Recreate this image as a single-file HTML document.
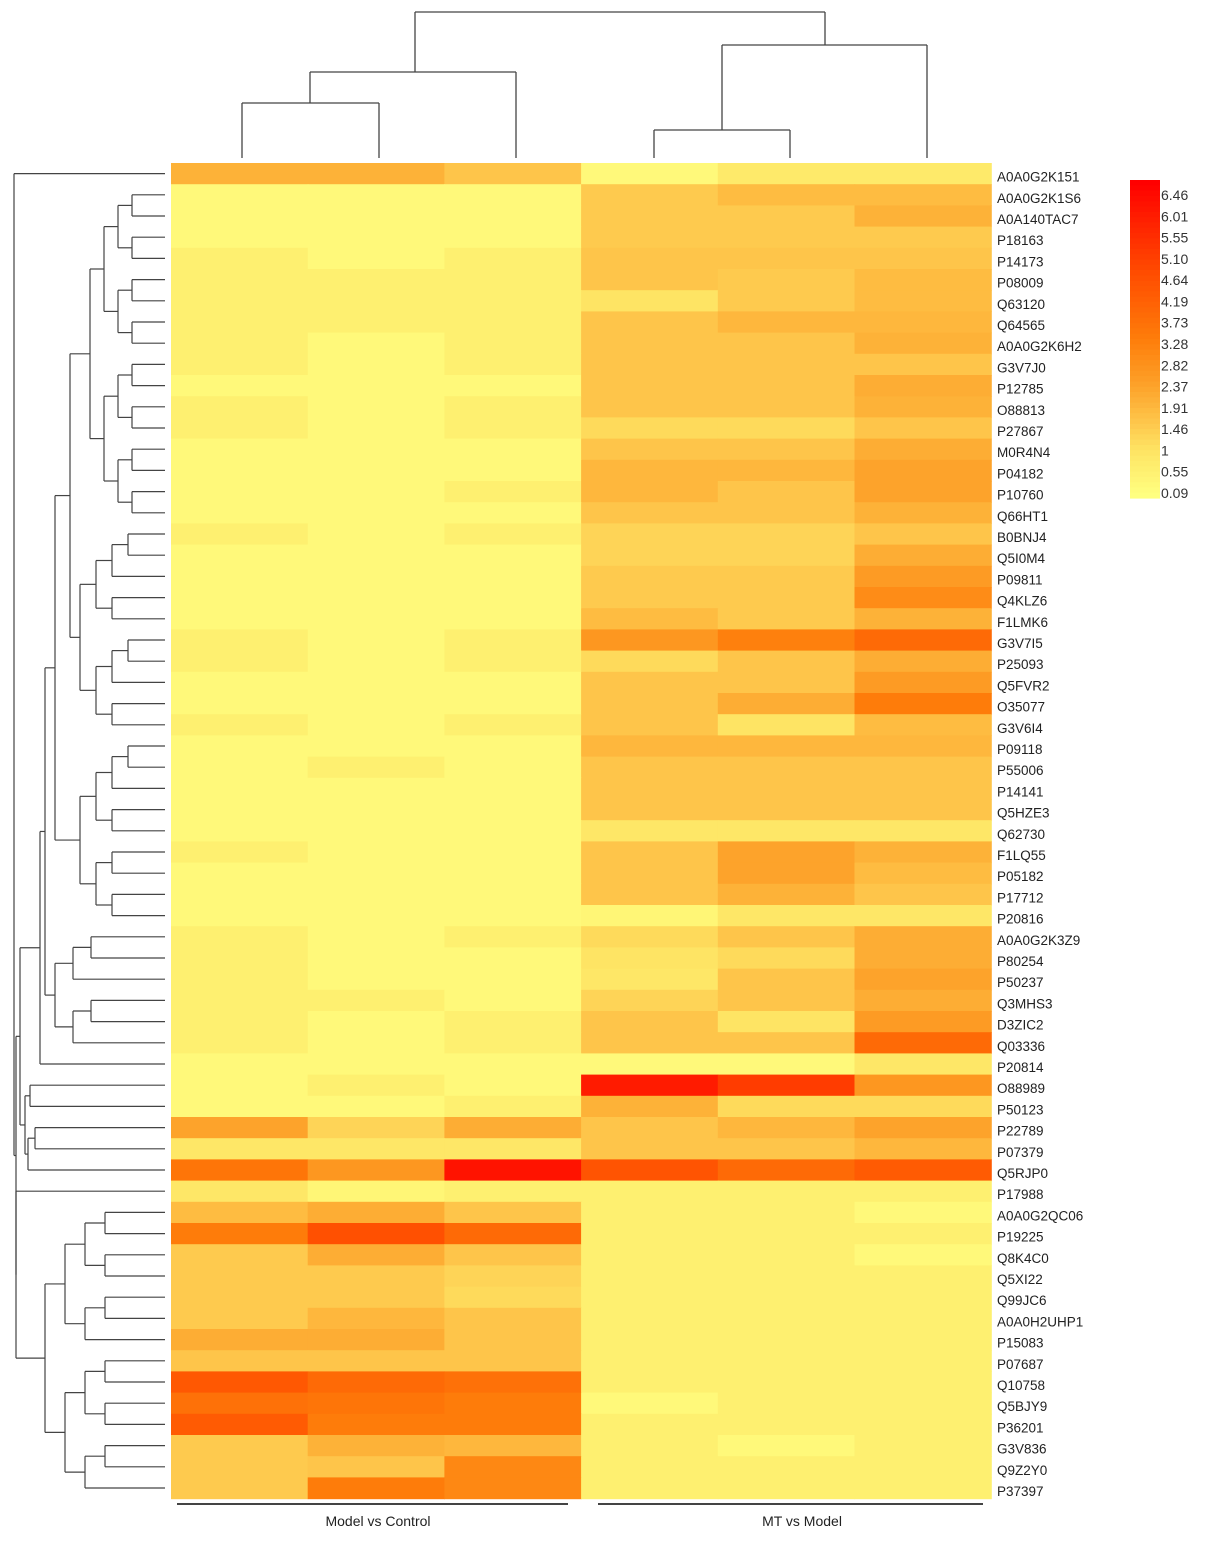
<!DOCTYPE html>
<html><head><meta charset="utf-8"><style>
body{margin:0;background:#fff;font-family:"Liberation Sans",sans-serif}
svg text{font-family:"Liberation Sans",sans-serif}
</style></head><body>
<svg id="c" width="1205" height="1541" viewBox="0 0 1205 1541" xmlns="http://www.w3.org/2000/svg"></svg>
<script>
const rowLabels=["A0A0G2K151","A0A0G2K1S6","A0A140TAC7","P18163","P14173","P08009","Q63120","Q64565","A0A0G2K6H2","G3V7J0","P12785","O88813","P27867","M0R4N4","P04182","P10760","Q66HT1","B0BNJ4","Q5I0M4","P09811","Q4KLZ6","F1LMK6","G3V7I5","P25093","Q5FVR2","O35077","G3V6I4","P09118","P55006","P14141","Q5HZE3","Q62730","F1LQ55","P05182","P17712","P20816","A0A0G2K3Z9","P80254","P50237","Q3MHS3","D3ZIC2","Q03336","P20814","O88989","P50123","P22789","P07379","Q5RJP0","P17988","A0A0G2QC06","P19225","Q8K4C0","Q5XI22","Q99JC6","A0A0H2UHP1","P15083","P07687","Q10758","Q5BJY9","P36201","G3V836","Q9Z2Y0","P37397"];
const groupLabels=["Model vs Control","MT vs Model"];
const legendTicks=["6.46","6.01","5.55","5.10","4.64","4.19","3.73","3.28","2.82","2.37","1.91","1.46","1","0.55","0.09"];
const values=[
[2.0,2.0,1.6,0.3,0.8,0.8],[0.3,0.3,0.3,1.5,1.8,1.8],[0.3,0.3,0.3,1.5,1.5,2.0],[0.3,0.3,0.3,1.5,1.5,1.5],
[0.6,0.3,0.6,1.6,1.6,1.6],[0.6,0.6,0.6,1.6,1.5,1.8],[0.6,0.6,0.6,1.0,1.5,1.8],[0.6,0.6,0.6,1.6,1.9,1.9],
[0.6,0.3,0.6,1.6,1.6,2.0],[0.6,0.3,0.6,1.6,1.6,1.6],[0.3,0.3,0.3,1.6,1.6,2.1],[0.6,0.3,0.6,1.6,1.6,2.0],
[0.6,0.3,0.6,1.2,1.2,1.6],[0.3,0.3,0.3,1.6,1.6,2.1],[0.3,0.3,0.3,1.9,1.9,2.3],[0.3,0.3,0.6,1.9,1.6,2.3],
[0.3,0.3,0.3,1.6,1.6,2.0],[0.6,0.3,0.6,1.3,1.3,1.6],[0.3,0.3,0.3,1.3,1.3,2.1],[0.3,0.3,0.3,1.5,1.5,2.5],
[0.3,0.3,0.3,1.5,1.5,2.9],[0.3,0.3,0.3,1.8,1.5,2.0],[0.6,0.3,0.6,2.6,3.2,3.8],[0.6,0.3,0.6,1.2,1.6,2.1],
[0.3,0.3,0.3,1.6,1.6,2.5],[0.3,0.3,0.3,1.6,2.1,3.3],[0.6,0.3,0.6,1.6,1.0,1.8],[0.3,0.3,0.3,1.9,1.9,1.9],
[0.3,0.6,0.3,1.6,1.6,1.6],[0.3,0.3,0.3,1.6,1.6,1.6],[0.3,0.3,0.3,1.6,1.6,1.6],[0.3,0.3,0.3,0.9,0.9,0.9],
[0.6,0.3,0.3,1.6,2.3,2.0],[0.3,0.3,0.3,1.6,2.3,1.8],[0.3,0.3,0.3,1.6,2.0,1.6],[0.3,0.3,0.3,0.4,0.9,0.9],
[0.6,0.3,0.6,1.2,1.6,2.1],[0.6,0.3,0.3,1.0,1.2,2.1],[0.6,0.3,0.3,0.9,1.6,2.3],[0.6,0.6,0.3,1.3,1.6,2.1],
[0.6,0.3,0.6,1.6,1.0,2.5],[0.6,0.3,0.6,1.6,1.6,3.8],[0.3,0.3,0.3,0.3,0.3,0.9],[0.3,0.6,0.3,5.8,5.0,2.6],
[0.3,0.3,0.6,2.0,1.2,1.2],[2.3,1.3,2.1,1.6,1.9,2.3],[0.9,0.9,0.9,1.6,1.6,1.9],[3.5,2.6,6.0,4.4,3.8,4.2],
[0.9,0.4,0.6,0.6,0.6,0.6],[1.8,2.1,1.6,0.6,0.6,0.3],[3.3,4.5,3.8,0.6,0.6,0.6],[1.5,2.1,1.6,0.6,0.6,0.3],
[1.5,1.5,1.3,0.6,0.6,0.6],[1.5,1.5,1.2,0.6,0.6,0.6],[1.5,1.9,1.6,0.6,0.6,0.6],[2.1,2.1,1.6,0.6,0.6,0.6],
[1.6,1.6,1.6,0.6,0.6,0.6],[4.3,3.8,3.6,0.6,0.6,0.6],[3.6,3.5,3.3,0.3,0.6,0.6],[4.2,3.3,3.3,0.6,0.6,0.6],
[1.5,2.0,1.9,0.6,0.3,0.6],[1.5,1.6,3.0,0.6,0.6,0.6],[1.5,3.3,3.0,0.6,0.6,0.6]];
const NS="http://www.w3.org/2000/svg",svg=document.getElementById('c');
function mk(t,a,p){const e=document.createElementNS(NS,t);for(const k in a)e.setAttribute(k,a[k]);(p||svg).appendChild(e);return e;}
const X0=171,CW=136.7,Y0=163,RH=21.2,VMIN=0.09,VMAX=6.46;
const stops=[[0.09,[255,255,128]],[1.0,[254,228,100]],[1.46,[254,204,80]],[2.37,[253,160,40]],[3.28,[254,125,10]],[4.64,[255,75,0]],[6.46,[255,0,0]]];
function col(v){v=Math.max(VMIN,Math.min(VMAX,v));for(let i=1;i<stops.length;i++){if(v<=stops[i][0]){const a=stops[i-1],b=stops[i],t=(v-a[0])/(b[0]-a[0]);return 'rgb('+a[1].map((c,j)=>Math.round(c+(b[1][j]-c)*t)).join(',')+')';}}return 'rgb(255,0,0)';}
const xS=j=>X0+j*CW, yS=i=>Y0+i*RH;
const g=mk('g',{});


values.forEach((r,i)=>r.forEach((v,j)=>{const c=mk('rect',{x:xS(j),y:yS(i),width:CW+0.6,height:RH+0.6,fill:col(v)},g);

}));
rowLabels.forEach((l,i)=>{const t=mk('text',{x:997,y:yS(i)+RH/2+8,'font-size':13.5,fill:'#222'});t.textContent=l;

});
[[177,568,378],[598,983,802]].forEach((b,k)=>{mk('line',{x1:b[0],x2:b[1],y1:1504,y2:1504,stroke:'#444','stroke-width':2});
const t=mk('text',{x:b[2],y:1526,'font-size':14,'text-anchor':'middle',fill:'#222'});t.textContent=groupLabels[k];

});
const LX=1130,LY=180,LH=318,LW=30;
const lg=mk('g',{});


for(let k=0;k<60;k++){const v=VMAX-(VMAX-VMIN)*k/59;mk('rect',{x:LX,y:LY+k*LH/60,width:LW,height:LH/60+0.6,fill:col(v)},lg);}
legendTicks.forEach((s,k)=>{const t=mk('text',{x:LX+31,y:LY+15+k*(LH-20)/14+5,'font-size':14,fill:'#333'},lg);t.textContent=s;});
const dg=mk('g',{stroke:'#444','stroke-width':1.3,fill:'none'});


[[242,158,242,103],[242,103,379,103],[379,103,379,158],[310,103,310,72],[310,72,516,72],[516,72,516,158],
[654,158,654,130],[654,130,790,130],[790,130,790,158],[722,130,722,45],[722,45,927,45],[927,45,927,158],
[415,72,415,12],[415,12,825,12],[825,12,825,45]].forEach(s=>mk('line',{x1:s[0],y1:s[1],x2:s[2],y2:s[3]},dg));
function sub(a,b,x,step){if(a===b)return a;const m=Math.floor((a+b)/2);return [x,sub(a,m,x+step,step),sub(m+1,b,x+step,step)];}
const tree=[14,0,[16,[20,[40,[45,[55,[70,sub(1,16,90,14),sub(17,26,80,16)],sub(27,35,80,16)],sub(36,41,55,18)],42],[25,[30,43,44],[28,[35,45,46],47]]],[16,48,sub(49,62,45,20)]]];
const lt=mk('g',{stroke:'#444','stroke-width':1.2,fill:'none'});


function draw(n){if(typeof n==='number')return {x:165,y:yS(n)+RH/2};const a=draw(n[1]),b=draw(n[2]);
mk('line',{x1:a.x,y1:a.y,x2:n[0],y2:a.y},lt);mk('line',{x1:b.x,y1:b.y,x2:n[0],y2:b.y},lt);mk('line',{x1:n[0],y1:a.y,x2:n[0],y2:b.y},lt);
return {x:n[0],y:(a.y+b.y)/2};}
draw(tree);
</script>
</body></html>
